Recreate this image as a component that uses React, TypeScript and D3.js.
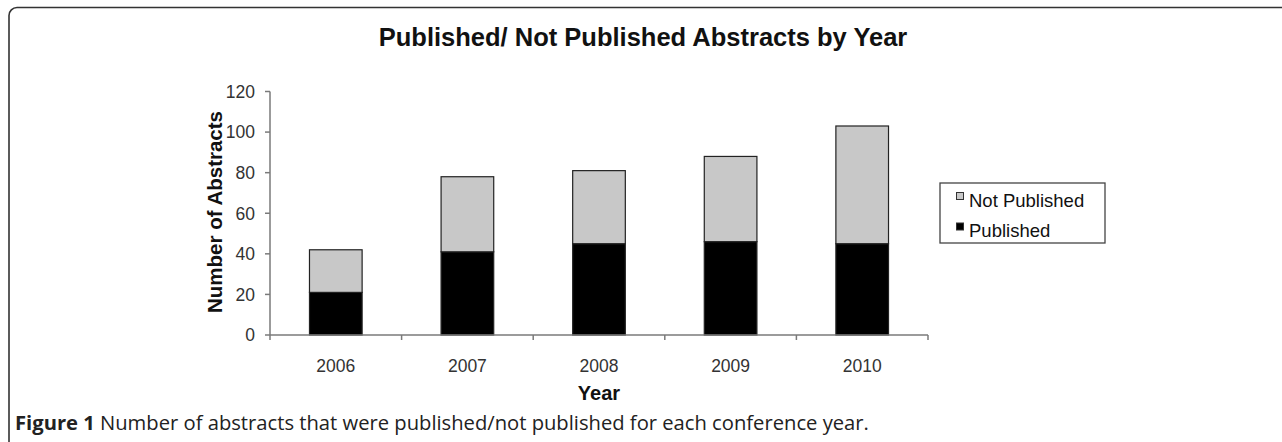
import React from "react";
import * as d3 from "d3";

const years = ["2006", "2007", "2008", "2009", "2010"];
const published = [21, 41, 45, 46, 45];
const notPublished = [21, 37, 36, 42, 58];
const yTicks = [0, 20, 40, 60, 80, 100, 120];
const seriesNames = ["Not Published", "Published"];

const W = 1282;
const H = 442;
const FONT = "'Liberation Sans', Arial, sans-serif";

export default function App() {
  const x = d3
    .scaleBand<string>()
    .domain(years)
    .range([270, 928])
    .paddingInner(0.6)
    .paddingOuter(0.3);
  const y = d3.scaleLinear().domain([0, 120]).range([335, 91.5]);
  const step = x.step();
  const x0 = 270;
  const stack = d3
    .stack<any>()
    .keys(["pub", "notPub"])(years.map((yr, i) => ({ yr, pub: published[i], notPub: notPublished[i] })));
  const fills: Record<string, string> = { pub: "#000000", notPub: "#c8c8c8" };
  const axisColor = "#7a7a7a";
  const tickTextColor = "#333";

  return (
    <svg
      width={W}
      height={H}
      style={{ position: "absolute", left: 0, top: 0, background: "#fff" }}
      fontFamily={FONT}
    >
      {/* frame */}
      <rect x={9} y={7.5} width={1400} height={600} rx={8} ry={8} fill="none" stroke="#333" strokeWidth={1.6} />

      {/* title */}
      <text x={643} y={46} textAnchor="middle" fontSize={25.5} fontWeight="bold" fill="#111">
        Published/ Not Published Abstracts by Year
      </text>

      {/* bars */}
      {stack.map((layer) =>
        layer.map((d, i) => (
          <rect
            key={layer.key + i}
            x={x(years[i])}
            y={y(d[1])}
            width={x.bandwidth()}
            height={y(d[0]) - y(d[1])}
            fill={fills[layer.key]}
            stroke="#222"
            strokeWidth={1.2}
          />
        ))
      )}

      {/* y axis */}
      <line x1={x0} x2={x0} y1={y(120)} y2={y(0)} stroke={axisColor} strokeWidth={1.5} />
      {yTicks.map((t) => (
        <g key={t}>
          <line x1={x0 - 5} x2={x0} y1={y(t)} y2={y(t)} stroke={axisColor} strokeWidth={1.5} />
          <text x={255} y={y(t)} dy="0.36em" textAnchor="end" fontSize={17.5} fill={tickTextColor}>
            {t}
          </text>
        </g>
      ))}

      {/* x axis */}
      <line x1={x0} x2={928} y1={y(0)} y2={y(0)} stroke={axisColor} strokeWidth={1.5} />
      {d3.range(years.length + 1).map((i) => (
        <line key={i} x1={x0 + i * step} x2={x0 + i * step} y1={y(0)} y2={y(0) + 5} stroke={axisColor} strokeWidth={1.5} />
      ))}
      {years.map((yr) => (
        <text key={yr} x={(x(yr) as number) + x.bandwidth() / 2} y={371.5} textAnchor="middle" fontSize={17.5} fill={tickTextColor}>
          {yr}
        </text>
      ))}

      {/* axis titles */}
      <text x={599} y={400} textAnchor="middle" fontSize={20} fontWeight="bold" fill="#111">
        Year
      </text>
      <text transform="translate(222,212) rotate(-90)" textAnchor="middle" fontSize={20.5} fontWeight="bold" fill="#111">
        Number of Abstracts
      </text>

      {/* legend */}
      <rect x={940} y={183} width={165} height={60} fill="#fff" stroke="#444" strokeWidth={1.3} />
      {seriesNames.map((name, i) => (
        <g key={name}>
          <rect
            x={956.5}
            y={192.5 + i * 30.5}
            width={7}
            height={7}
            fill={i === 0 ? "#c8c8c8" : "#000"}
            stroke="#333"
            strokeWidth={1}
          />
          <text x={969} y={206.5 + i * 30.5} fontSize={18.5} fill="#111">
            {name}
          </text>
        </g>
      ))}

      {/* caption */}
      <text x={15} y={429.5} fontSize={20.2} fontFamily="'Open Sans', 'Noto Sans', sans-serif" fill="#222">
        <tspan fontWeight="bold">Figure 1</tspan>
        <tspan> Number of abstracts that were published/not published for each conference year.</tspan>
      </text>
    </svg>
  );
}
